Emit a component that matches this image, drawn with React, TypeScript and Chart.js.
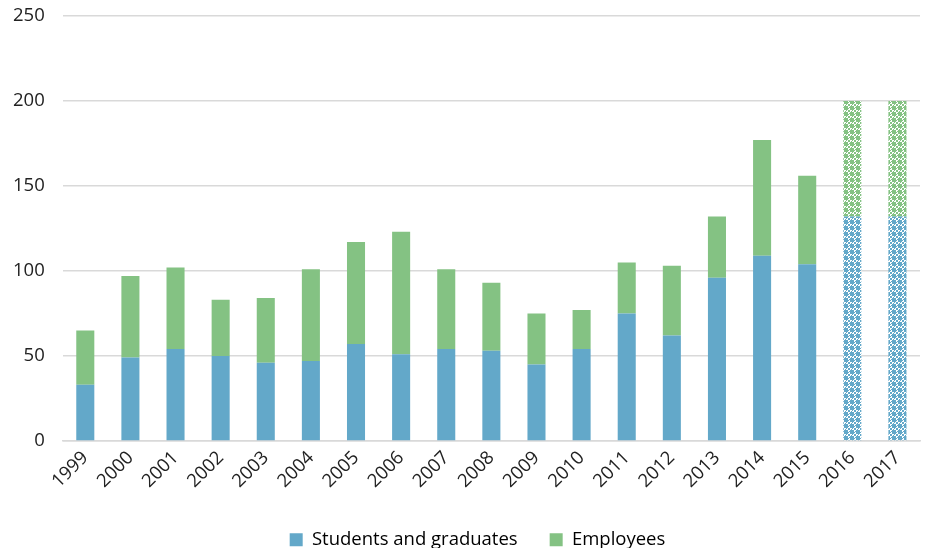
import React, { useEffect, useRef } from "react";
import { Chart, registerables } from "chart.js";

Chart.register(...registerables);

const years = ["1999","2000","2001","2002","2003","2004","2005","2006","2007","2008","2009","2010","2011","2012","2013","2014","2015","2016","2017"];
const students = [33, 49, 54, 50, 46, 47, 57, 51, 54, 53, 45, 54, 75, 62, 96, 109, 104, 132, 132];
const employees = [32, 48, 48, 33, 38, 54, 60, 72, 47, 40, 30, 23, 30, 41, 36, 68, 52, 68, 68];
const forecastYears = ["2016", "2017"];
const yTicks = [0, 50, 100, 150, 200, 250];

const BLUE = "#63a8c9";
const GREEN = "#84c283";

function makePattern(color: string): CanvasPattern | string {
  const c = document.createElement("canvas");
  c.width = 6;
  c.height = 6;
  const ctx = c.getContext("2d");
  if (!ctx) return color;
  ctx.fillStyle = "#ffffff";
  ctx.fillRect(0, 0, 6, 6);
  ctx.fillStyle = color;
  ctx.fillRect(0, 0, 2, 2);
  ctx.fillRect(4, 0, 2, 2);
  ctx.fillRect(2, 2, 2, 2);
  ctx.fillRect(0, 4, 2, 2);
  ctx.fillRect(4, 4, 2, 2);
  ctx.fillRect(2, 0, 1, 1);
  ctx.fillRect(0, 2, 1, 1);
  ctx.fillRect(5, 3, 1, 1);
  ctx.fillRect(3, 5, 1, 1);
  const p = ctx.createPattern(c, "repeat");
  return p || color;
}

const legendShift = {
  id: "legendShift",
  afterLayout(chart: any) {
    const lg = chart.legend;
    if (lg) {
      lg.left += 20;
      lg.right += 20;
      if (lg.legendHitBoxes) lg.legendHitBoxes.forEach((b: any) => (b.left += 10));
    }
  },
};

export default function App() {
  const ref = useRef<HTMLCanvasElement | null>(null);
  useEffect(() => {
    document.body.style.margin = "0";
    const canvas = ref.current;
    if (!canvas) return;
    const bluePat = makePattern(BLUE);
    const greenPat = makePattern(GREEN);
    const blueBg = years.map((y) => (forecastYears.includes(y) ? bluePat : BLUE));
    const greenBg = years.map((y) => (forecastYears.includes(y) ? greenPat : GREEN));
    const font = { family: "'Open Sans', sans-serif", size: 18.5 };
    const chart = new Chart(canvas, {
      type: "bar",
      data: {
        labels: years,
        datasets: [
          {
            label: "Students and graduates",
            data: students,
            backgroundColor: blueBg as any,
            barPercentage: 0.4,
            categoryPercentage: 1,
          },
          {
            label: "Employees",
            data: employees,
            backgroundColor: greenBg as any,
            barPercentage: 0.4,
            categoryPercentage: 1,
          },
        ],
      },
      plugins: [legendShift],
      options: {
        animation: false,
        responsive: false,
        maintainAspectRatio: false,
        layout: { padding: { top: 0, right: 5, left: -5, bottom: -11 } },
        plugins: {
          legend: {
            position: "bottom",
            labels: {
              font,
              color: "#222",
              boxWidth: 13,
              boxHeight: 13,
              padding: 32,
              generateLabels: () => [
                { text: "Students and graduates", fillStyle: BLUE, strokeStyle: BLUE, lineWidth: 0, datasetIndex: 0 } as any,
                { text: "Employees", fillStyle: GREEN, strokeStyle: GREEN, lineWidth: 0, datasetIndex: 1 } as any,
              ],
            },
          },
          tooltip: { enabled: false },
        },
        scales: {
          x: {
            stacked: true,
            grid: { display: false, drawTicks: false },
            border: { display: true, color: "#d9d9d9", width: 1.5 },
            ticks: { font, color: "#222", maxRotation: 45, minRotation: 45, padding: 6 },
          },
          y: {
            stacked: true,
            min: 0,
            max: 250,
            afterBuildTicks: (axis: any) => {
              axis.ticks = yTicks.map((v) => ({ value: v }));
            },
            afterFit: (axis: any) => {
              axis.paddingTop = 16;
            },
            grid: { color: "#d9d9d9", lineWidth: 1.5, drawTicks: false },
            border: { display: false },
            ticks: { font, color: "#222", padding: 18 },
          },
        },
      },
    });
    return () => chart.destroy();
  }, []);
  return (
    <div style={{ width: 925, height: 548 }}>
      <canvas ref={ref} width={925} height={548} style={{ display: "block" }} />
    </div>
  );
}
